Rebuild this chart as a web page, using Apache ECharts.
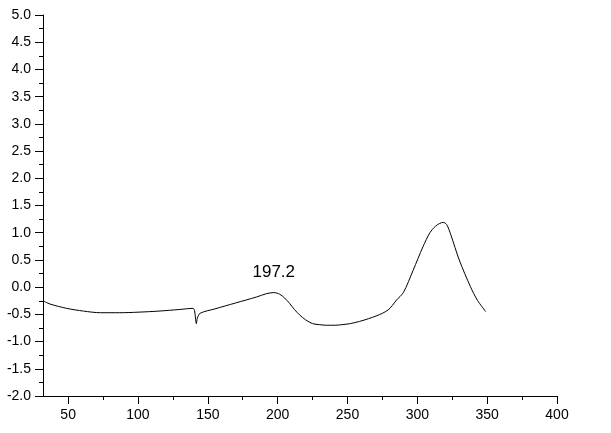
<!DOCTYPE html>
<html>
<head>
<meta charset="utf-8">
<script src="https://cdn.jsdelivr.net/npm/echarts@6/dist/echarts.min.js"></script>
<style>
  html, body { margin: 0; padding: 0; background: #fff; }
  #chart { width: 611px; height: 433px; }
</style>
</head>
<body>
<div id="chart"></div>
<script>
// wavelength (x) and signal (y)
const xValues = [32, 37, 49, 61, 73, 87, 100, 115, 130, 139.4, 140.5, 141.3, 141.8, 142.5, 144.5,
  155, 170, 185, 192, 197.2, 201.5, 205, 208.6, 212, 215.7, 220, 225, 230, 235, 241, 246, 252,
  258.6, 265, 270.5, 275, 279, 282, 285, 290, 297, 304, 309, 313, 316, 318.5, 321, 324, 330,
  338, 343, 349];
const yValues = [-0.25, -0.31, -0.39, -0.44, -0.47, -0.47, -0.46, -0.44, -0.41, -0.39, -0.43, -0.6, -0.67, -0.57, -0.48,
  -0.40, -0.29, -0.18, -0.12, -0.10, -0.13, -0.20, -0.30, -0.41, -0.51, -0.60, -0.67, -0.69, -0.70, -0.70, -0.69, -0.67,
  -0.63, -0.58, -0.53, -0.48, -0.42, -0.34, -0.24, -0.10, 0.31, 0.74, 1.0, 1.12, 1.17, 1.19, 1.15, 0.96, 0.5,
  0.01, -0.24, -0.45];
const xMajorTicks = [50, 100, 150, 200, 250, 300, 350, 400];
const xMinorTicks = [75, 125, 175, 225, 275, 325, 375];
const peakX = 197.2;
const peakY = -0.10;

const points = xValues.map((x, i) => [x, yValues[i]]);

const font = "Liberation Sans, Arial, sans-serif";

const myChart = echarts.init(document.getElementById("chart"));
const option = {
  animation: false,
  grid: { left: 43, right: 54, top: 15, bottom: 37 },
  xAxis: [
    {
      type: "value",
      min: 32,
      max: 400,
      axisLine: { show: true, onZero: false, lineStyle: { color: "#000", width: 1 } },
      axisTick: { show: true, length: 8, customValues: xMajorTicks, lineStyle: { color: "#000" } },
      axisLabel: { customValues: xMajorTicks, color: "#000", fontSize: 14, fontFamily: font, margin: 12 },
      splitLine: { show: false },
    },
    {
      // minor ticks only
      type: "value",
      min: 32,
      max: 400,
      position: "bottom",
      axisLine: { show: false, onZero: false },
      axisTick: { show: true, length: 4, customValues: xMinorTicks, lineStyle: { color: "#000" } },
      axisLabel: { show: false },
      splitLine: { show: false },
    },
  ],
  yAxis: {
    type: "value",
    min: -2,
    max: 5,
    interval: 0.5,
    axisLine: { show: true, onZero: false, lineStyle: { color: "#000", width: 1 } },
    axisTick: { show: true, length: 8, lineStyle: { color: "#000" } },
    minorTick: { show: true, splitNumber: 2, length: 4, lineStyle: { color: "#000" } },
    axisLabel: {
      color: "#000",
      fontSize: 14,
      fontFamily: font,
      margin: 12,
      formatter: (v) => v.toFixed(1),
    },
    splitLine: { show: false },
  },
  series: [
    {
      type: "line",
      data: points,
      showSymbol: false,
      smooth: 0.3,
      lineStyle: { color: "#000", width: 1 },
      markPoint: {
        symbol: "circle",
        symbolSize: 0,
        data: [{ coord: [peakX, peakY] }],
        label: {
          show: true,
          position: "top",
          distance: 12,
          formatter: String(peakX),
          color: "#000",
          fontSize: 17,
          fontFamily: font,
        },
      },
    },
  ],
};
myChart.setOption(option);
</script>
</body>
</html>
